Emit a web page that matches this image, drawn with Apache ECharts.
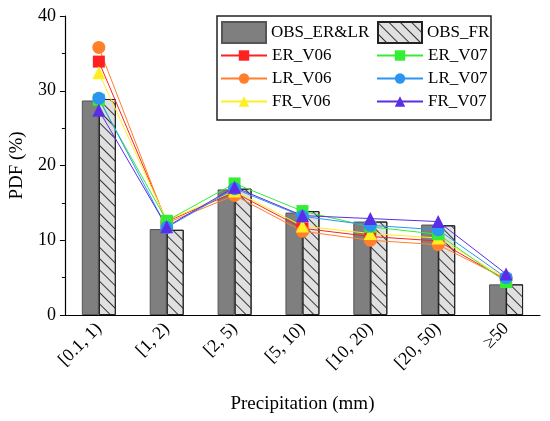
<!DOCTYPE html>
<html><head><meta charset="utf-8">
<script src="https://cdn.jsdelivr.net/npm/echarts@6/dist/echarts.min.js"></script>
<style>html,body{margin:0;padding:0;background:#fff}#c{width:550px;height:421px}</style>
</head><body><div id="c"></div>
<script>
const categories = ['[0.1, 1)', '[1, 2)', '[2, 5)', '[5, 10)', '[10, 20)', '[20, 50)', '≥50'];
const obsERLR = [28.7, 11.5, 16.8, 13.7, 12.5, 12.1, 4.1];
const obsFR   = [28.9, 11.4, 16.9, 13.9, 12.5, 12.0, 4.1];
const erV06 = [33.9, 12.5, 16.4, 11.6, 10.5, 9.9, 4.7];
const lrV06 = [35.8, 12.3, 16.0, 11.2, 10.0, 9.4, 4.8];
const frV06 = [32.4, 12.6, 16.6, 11.9, 10.9, 10.3, 4.9];
const erV07 = [28.8, 12.6, 17.6, 13.9, 11.8, 10.8, 4.4];
const lrV07 = [29.0, 11.7, 16.9, 13.2, 12.0, 11.4, 5.0];
const frV07 = [27.4, 11.8, 17.1, 13.3, 12.9, 12.5, 5.5];
const yTicks = [0, 10, 20, 30, 40];

const FONT = 'Liberation Serif';
const chart = echarts.init(document.getElementById('c'));
function line(name, data, color, symbol, size) {
  return { name, type: 'line', data, symbol, symbolSize: size,
    lineStyle: { color, width: 1 }, itemStyle: { color }, z: 3 };
}
const legText = { fontFamily: FONT, fontSize: 17, color: '#000' };
chart.setOption({
  animation: false,
  grid: { left: 62, right: 10, top: 16, bottom: 106 },
  xAxis: {
    type: 'category', data: categories,
    name: 'Precipitation (mm)', nameLocation: 'middle', nameGap: 80,
    nameTextStyle: { fontFamily: FONT, fontSize: 19, color: '#000' },
    axisLine: { lineStyle: { color: '#000', width: 1.2 } },
    axisTick: { alignWithLabel: true, length: 5, lineStyle: { color: '#000' } },
    axisLabel: { rotate: 45, fontFamily: FONT, fontSize: 18, color: '#000', margin: 11 }
  },
  yAxis: {
    type: 'value', min: yTicks[0], max: yTicks[yTicks.length - 1], interval: 10,
    name: 'PDF (%)', nameLocation: 'middle', nameGap: 37,
    nameTextStyle: { fontFamily: FONT, fontSize: 19, color: '#000' },
    axisLine: { show: true, lineStyle: { color: '#000', width: 1.2 } },
    axisTick: { show: true, length: 5, lineStyle: { color: '#000' } },
    minorTick: { show: true, splitNumber: 2, length: 3, lineStyle: { color: '#000' } },
    splitLine: { show: false },
    axisLabel: { fontFamily: FONT, fontSize: 18, color: '#000', margin: 9 }
  },
  legend: [
    { data: [{ name: 'OBS_ER&LR', icon: 'rect' }], left: 221, top: 21, padding: 0, itemWidth: 44, itemHeight: 21, textStyle: legText },
    { data: [{ name: 'OBS_FR', icon: 'rect' }], left: 377, top: 21, padding: 0, itemWidth: 44, itemHeight: 21, textStyle: legText },
    { data: ['ER_V06', 'LR_V06', 'FR_V06'], orient: 'vertical', left: 220, top: 47, padding: 0, itemGap: 6, itemWidth: 46, itemHeight: 13, textStyle: legText },
    { data: ['ER_V07', 'LR_V07', 'FR_V07'], orient: 'vertical', left: 376, top: 47, padding: 0, itemGap: 6, itemWidth: 46, itemHeight: 13, textStyle: legText }
  ],
  graphic: [{ type: 'rect', shape: { x: 217, y: 16, width: 274, height: 104 },
    style: { fill: '#fff', stroke: '#222', lineWidth: 1.5 }, z: 1 }],
  series: [
    { name: 'OBS_ER&LR', type: 'bar', data: obsERLR, barWidth: 17, barGap: '0%',
      itemStyle: { color: '#7f7f7f', borderColor: '#555', borderWidth: 1 } },
    { name: 'OBS_FR', type: 'bar', data: obsFR, barWidth: 17, barGap: '0%',
      itemStyle: { color: '#e0e0e0', borderColor: '#222', borderWidth: 1,
        decal: { symbol: 'rect', symbolSize: 1, dashArrayX: [[1, 0]], dashArrayY: [1, 7],
          rotation: Math.PI / 4, color: '#333' } } },
    line('ER_V06', erV06, '#ff2020', 'rect', 12),
    line('LR_V06', lrV06, '#ff7f2a', 'circle', 13),
    line('FR_V06', frV06, '#ffee22', 'triangle', 13),
    line('ER_V07', erV07, '#33ee33', 'rect', 12),
    line('LR_V07', lrV07, '#2b95f0', 'circle', 13),
    line('FR_V07', frV07, '#5a2ee6', 'triangle', 13)
  ]
});
</script></body></html>
